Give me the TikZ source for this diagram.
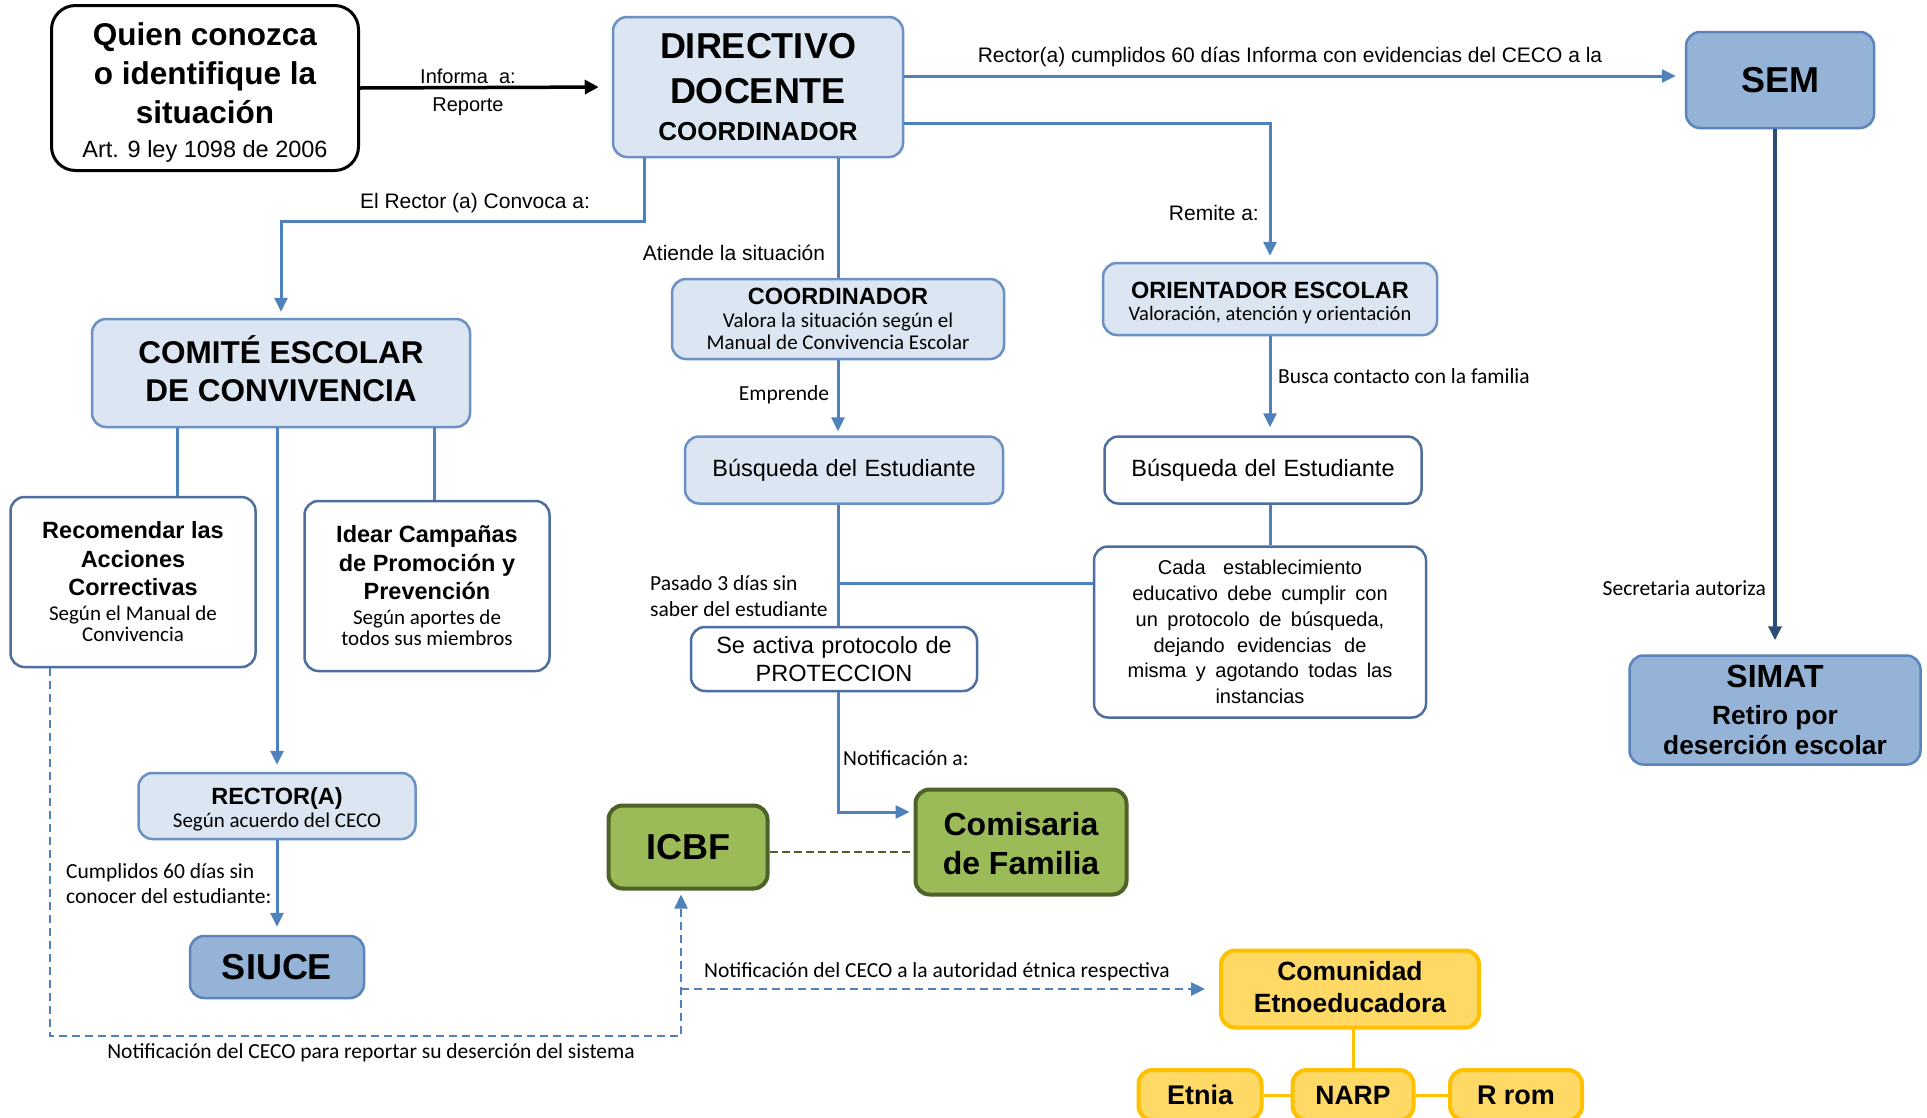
\documentclass[tikz,border=0pt]{standalone}
\usepackage{fontspec}
\setmainfont{Liberation Sans}
\newfontfamily\calfont{Carlito}
\usetikzlibrary{arrows.meta,calc}
\newcommand{\myfs}[2]{\fontsize{#1}{#2}\selectfont}
\newcommand{\wsp}[1]{\spaceskip #1\relax}
\definecolor{lblue}{HTML}{DCE6F2}
\definecolor{lborder}{HTML}{6A90C4}
\definecolor{dblue}{HTML}{95B3D7}
\definecolor{dborder}{HTML}{5B84BA}
\definecolor{wborder}{HTML}{4E6E9E}
\definecolor{gfill}{HTML}{9BBB59}
\definecolor{gborder}{HTML}{4F6228}
\definecolor{yfill}{HTML}{FFD966}
\definecolor{yborder}{HTML}{FFC000}
\definecolor{cblue}{HTML}{4F81BD}
\definecolor{navy}{HTML}{2C4D75}
\begin{document}
\begin{tikzpicture}[x=1pt,y=-1pt,
  box/.style={rounded corners=14pt, line width=2.5pt, align=center, inner sep=0pt, text=black},
  lb/.style={box, fill=lblue, draw=lborder},
  db/.style={box, fill=dblue, draw=dborder},
  wb/.style={box, fill=white, draw=wborder},
  gb/.style={box, fill=gfill, draw=gborder, line width=4pt},
  yb/.style={box, fill=yfill, draw=yborder, line width=4pt},
  qb/.style={box, fill=white, draw=black, line width=3pt, rounded corners=24pt},
  txt/.style={inner sep=0pt, align=center, text=black},
  conn/.style={draw=cblue, line width=3pt},
  arr/.style={conn, -{Triangle[length=14pt,width=13pt]}},
  blackarr/.style={draw=black, line width=3.5pt, -{Triangle[length=14pt,width=14pt]}},
  navyarr/.style={draw=navy, line width=3.5pt, -{Triangle[length=14pt,width=13pt]}},
  darr/.style={draw=cblue, line width=2.5pt, dash pattern=on 8pt off 5pt, -{Triangle[length=14pt,width=13pt]}},
  gdash/.style={draw=gborder, line width=2.5pt, dash pattern=on 8pt off 4pt},
  yline/.style={draw=yborder, line width=3pt},
  lab/.style={inner sep=0pt, text=black, font=\myfs{21}{25}},
  clab/.style={inner sep=0pt, text=black, font=\calfont\myfs{21.5}{26}}
]
\useasboundingbox (0,0) rectangle (1927,1117);
\fill[white] (0,0) rectangle (1927,1117);

% boxes
\node[qb, minimum width=307pt, minimum height=165pt] (quien) at (205,88) {};
\node[txt, font=\bfseries\myfs{31.5}{39}] (quienT) at ([yshift=-5pt]quien.center)
  {Quien conozca\\o identifique la\\situación\\[-5pt]{\mdseries\myfs{23.5}{26}Art. 9 ley 1098 de 2006}};
\node[lb, minimum width=290pt, minimum height=140pt, font=\bfseries\myfs{36}{45}] (dir) at (758,87)
  {DIRECTIVO\\DOCENTE\\[-8pt]{\myfs{26}{30}COORDINADOR}};
\node[db, minimum width=188pt, minimum height=96pt, font=\bfseries\myfs{36}{41}] (sem) at (1780,80) {SEM};
\node[lb, minimum width=334pt, minimum height=72pt] (orient) at (1270,299) {};
\node[txt, font=\calfont\myfs{20.5}{22}] (orientT) at ([yshift=-4pt]orient.center)
  {{\rmfamily\bfseries\myfs{23.5}{25}ORIENTADOR ESCOLAR}\\Valoración, atención y orientación};
\node[lb, minimum width=378pt, minimum height=108pt] (comite) at (281,373) {};
\node[txt, font=\bfseries\myfs{31.5}{38}] (comiteT) at ([yshift=4pt]comite.center) {COMITÉ ESCOLAR\\DE CONVIVENCIA};
\node[lb, minimum width=332pt, minimum height=80pt, font=\calfont\myfs{21}{22}] (coord) at (838,319)
  {{\rmfamily\bfseries\myfs{23.5}{24}COORDINADOR}\\[1pt]Valora la situación según el\\Manual de Convivencia Escolar};
\node[lb, minimum width=318pt, minimum height=67pt, font=\myfs{23.5}{28}\wsp{7.5pt}] (bus1) at (844,470) {Búsqueda del Estudiante};
\node[wb, minimum width=286pt, minimum height=64pt, font=\myfs{23.5}{28}\wsp{7.5pt}] (prot) at (834,659) {Se activa protocolo de\\PROTECCION};
\node[wb, minimum width=317pt, minimum height=67pt, font=\myfs{23.5}{28}\wsp{7.5pt}] (bus2) at (1263,470) {Búsqueda del Estudiante};
\node[wb, minimum width=332pt, minimum height=171pt, font=\myfs{20}{25.8}\wsp{9.5pt}] (cada) at (1260,632)
  {Cada\hspace{8pt} establecimiento\\educativo debe cumplir con\\un protocolo de búsqueda,\\dejando\hspace{3pt} evidencias\hspace{3pt} de\\misma y agotando todas las\\instancias};
\node[gb, minimum width=211pt, minimum height=105pt] (comis) at (1021,842) {};
\node[txt, font=\bfseries\myfs{32}{39}] (comisT) at ([yshift=-2pt]comis.center) {Comisaria\\de Familia};
\node[gb, minimum width=159pt, minimum height=83pt, font=\bfseries\myfs{36}{40}] (icbf) at (688,847) {ICBF};
\node[wb, minimum width=245pt, minimum height=170pt, font=\bfseries\myfs{23.5}{28.5}] (recom) at (133,582)
  {Recomendar las\\Acciones\\Correctivas\\[-3.5pt]{\calfont\mdseries\myfs{21}{21}Según el Manual de}\\[-7.5pt]{\calfont\mdseries\myfs{21}{21}Convivencia}};
\node[wb, minimum width=245pt, minimum height=170pt, font=\bfseries\myfs{23.5}{28.5}] (idear) at (427,586)
  {Idear Campañas\\de Promoción y\\Prevención\\[-3.5pt]{\calfont\mdseries\myfs{21}{21}Según aportes de}\\[-7.5pt]{\calfont\mdseries\myfs{21}{21}todos sus miembros}};
\node[lb, minimum width=277pt, minimum height=66pt] (rector) at (277,806) {};
\node[txt, font=\calfont\myfs{21}{23}] (rectorT) at ([yshift=-3pt]rector.center)
  {{\rmfamily\bfseries\myfs{23.5}{24}RECTOR(A)}\\Según acuerdo del CECO};
\node[db, minimum width=174pt, minimum height=62pt, font=\bfseries\myfs{36}{40}] (siuce) at (277,967) {SIUCE};
\node[db, minimum width=291pt, minimum height=109pt, font=\bfseries\myfs{26.3}{30}] (simat) at (1775,710)
  {{\myfs{32}{30}SIMAT}\\[7pt]Retiro por\\deserción escolar};
\node[yb, minimum width=258pt, minimum height=77pt] (comun) at (1350,989) {};
\node[txt, font=\bfseries\myfs{26.4}{32}] (comunT) at ([yshift=2pt]comun.center) {Comunidad\\Etnoeducadora};
\node[yb, minimum width=123pt, minimum height=50pt, font=\bfseries\myfs{27}{30}] (etnia) at (1200,1095) {Etnia};
\node[yb, minimum width=121pt, minimum height=50pt, font=\bfseries\myfs{26.5}{30}] (narp) at (1353,1095) {NARP};
\node[yb, minimum width=132pt, minimum height=50pt, font=\bfseries\myfs{27}{30}] (rrom) at (1516,1095) {R rom};

% helper coordinates
\coordinate (semin) at ([yshift=4pt]sem.west);
\coordinate (dj) at (681,1036);
\coordinate (db) at (681,989);

% connectors
\draw[blackarr, shorten >=13pt] (quien.east) -- (dir.west);
\draw[arr, shorten >=9pt] (dir.east |- semin) -- (semin);
\draw[arr, shorten >=6pt] ([yshift=-36pt]dir.east) -| (orient.north);
\draw[arr, shorten >=6pt] ([xshift=-114pt]dir.south) -- ++(0,63) -| (comite.north);
\draw[conn] (dir.south -| coord) -- (coord.north);
\draw[arr, shorten >=4pt] (coord.south) -- (coord.south |- bus1.north);
\draw[conn] (bus1.south -| coord) -- (prot.north -| coord);
\draw[arr, shorten >=8pt] (orient.south) -- (orient.south |- bus2.north);
\draw[conn] (bus2.south -| orient) -- (cada.north -| orient);
\draw[conn] ([yshift=49pt]cada.west) -- ([yshift=49pt]cada.west -| coord);
\draw[arr, shorten >=4pt] (prot.south -| coord) |- ([yshift=30pt]comis.west);
\draw[gdash] ([yshift=-5pt]icbf.east) -- ([yshift=-5pt]icbf.east -| comis.west);
\draw[conn] ([xshift=44pt]recom.north) -- ([xshift=44pt]recom.north |- comite.south);
\draw[conn] ([xshift=7pt]idear.north) -- ([xshift=7pt]idear.north |- comite.south);
\draw[arr, shorten >=7pt] (comite.south -| rector) -- (rector.north);
\draw[arr, shorten >=8pt] (rector.south) -- (siuce.north);
\draw[navyarr, shorten >=14pt] (sem.south -| simat) -- (simat.north);
\draw[darr, shorten >=4pt] ([xshift=-83pt]recom.south) |- (dj) -- (icbf.south -| dj);
\draw[darr, shorten >=14pt] (db) -- (comun.west);
\draw[yline] (comun.south -| narp) -- (narp.north);
\draw[yline] (etnia.east) -- (narp.west);
\draw[yline] (narp.east) -- (rrom.west);

% labels
\node[lab, font=\myfs{20}{24}] (lInf) at (468,76) {Informa\ \ a:};
\node[lab, font=\myfs{20}{24}] (lRep) at (468,107) {Reporte};
\node[lab] (lR60) at (1290,57) {Rector(a) cumplidos 60 días Informa con evidencias del CECO a la};
\node[lab, anchor=east] (lRem) at (1259,213) {Remite a:};
\node[lab] (lConv) at (475,203) {El Rector (a) Convoca a:};
\node[lab] (lAt) at (734,253) {Atiende la situación};
\node[clab] (lEmp) at (784,395) {Emprende};
\node[clab, anchor=west] (lBus) at (1278,376) {Busca contacto con la familia};
\node[clab, anchor=west, align=left] (lPas) at (650,596) {Pasado 3 días sin\\saber del estudiante};
\node[clab, anchor=west] (lNot) at (843,758) {Notificación a:};
\node[clab, anchor=west, align=left, font=\calfont\myfs{21.5}{25}] (lCum) at (66,884) {Cumplidos 60 días sin\\conocer del estudiante:};
\node[clab] (lNC) at (371,1053) {Notificación del CECO para reportar su deserción del sistema};
\node[clab] (lNE) at (937,972) {Notificación del CECO a la autoridad étnica respectiva};
\node[clab, anchor=east] (lSec) at (1766,588) {Secretaria autoriza};
\end{tikzpicture}
\end{document}
